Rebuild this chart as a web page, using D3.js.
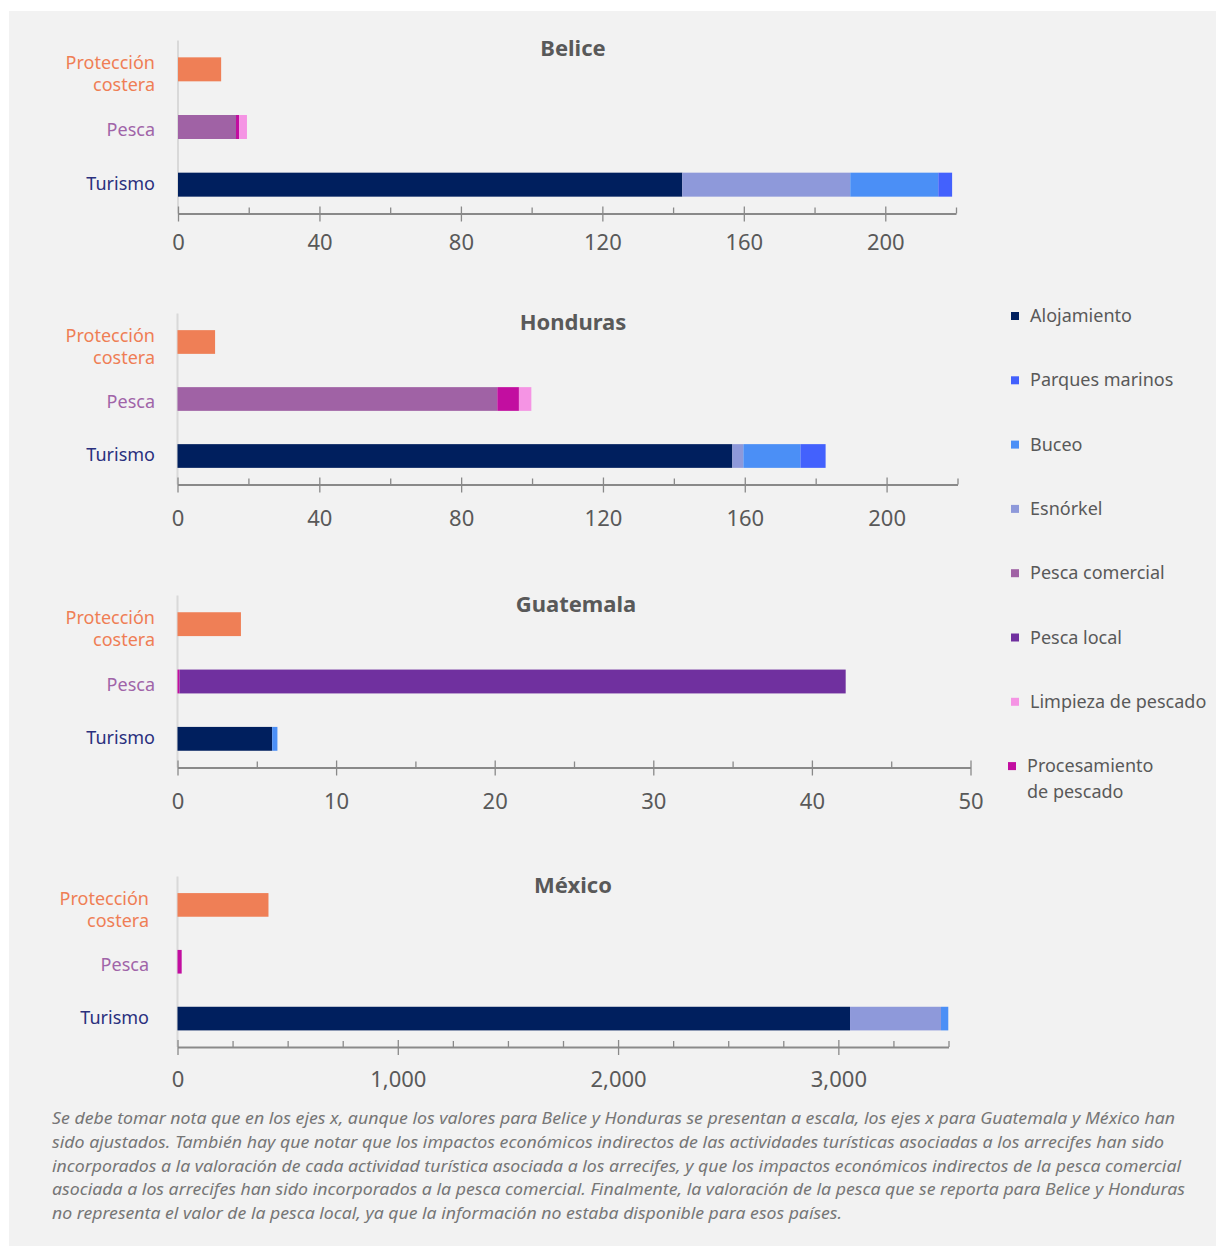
<!DOCTYPE html>
<html>
<head>
<meta charset="utf-8">
<script src="https://cdn.jsdelivr.net/npm/d3@7"></script>
<style>
  body { margin: 0; background: #ffffff; }
  svg { display: block; font-family: "Noto Sans", "Open Sans", sans-serif; }
</style>
</head>
<body>
<div id="wrapper"></div>
<script>
// data, one entry per country
const countries = ["Belice", "Honduras", "Guatemala", "México"]
const categories = ["Protección costera", "Pesca", "Turismo"]

const proteccionCostera = [12.2, 10.6, 4.0, 413]
const pescaComercial = [16.4, 90.2, 0, 0]
const procesamiento = [0.9, 6.1, 0.13, 19]
const pescaLocal = [0, 0, 42.0, 0]
const limpieza = [2.2, 3.5, 0, 0]
const alojamiento = [142.6, 156.5, 5.97, 3053]
const esnorkel = [47.5, 3.1, 0, 413]
const buceo = [24.9, 16.1, 0.33, 33]
const parques = [3.9, 7.1, 0, 0]

// axis extent and tick steps per country
const axisMax = [220, 220, 50, 3500]
const majorStep = [40, 40, 10, 1000]
const minorStep = [20, 20, 5, 250]

const legendOrder = ["Alojamiento", "Parques marinos", "Buceo", "Esnórkel",
    "Pesca comercial", "Pesca local", "Limpieza de pescado", "Procesamiento de pescado"]

function drawChart() {
    //! series table
    const series = [
        { key: "Alojamiento", cat: "Turismo", values: alojamiento, color: "#001f5e" },
        { key: "Esnórkel", cat: "Turismo", values: esnorkel, color: "#8e99da" },
        { key: "Buceo", cat: "Turismo", values: buceo, color: "#4b8ff6" },
        { key: "Parques marinos", cat: "Turismo", values: parques, color: "#4361fd" },
        { key: "Pesca comercial", cat: "Pesca", values: pescaComercial, color: "#a062a5" },
        { key: "Procesamiento de pescado", cat: "Pesca", values: procesamiento, color: "#c20ea0" },
        { key: "Pesca local", cat: "Pesca", values: pescaLocal, color: "#70309f" },
        { key: "Limpieza de pescado", cat: "Pesca", values: limpieza, color: "#f594e4" },
        { key: "Protección costera", cat: "Protección costera", values: proteccionCostera, color: "#ef7f56" },
    ]
    const colorOf = Object.fromEntries(series.map(s => [s.key, s.color]))
    const catColor = {
        "Protección costera": "#ef7e55",
        "Pesca": "#a064a8",
        "Turismo": "#2a307e"
    }
    // small vertical nudges of the category labels
    const catNudge = { "Protección costera": 1, "Pesca": 3, "Turismo": -1 }

    // panel placement
    const layout = [
        { top: 40.5, bottom: 213.5, left: 178, right: 956, labelRight: 155, titleX: 573, titleY: 56, tickDy: 36 },
        { top: 313.5, bottom: 484.5, left: 177.5, right: 957.5, labelRight: 155, titleX: 573, titleY: 330, tickDy: 41 },
        { top: 595.5, bottom: 767.5, left: 177.5, right: 970.5, labelRight: 155, titleX: 576, titleY: 612, tickDy: 41 },
        { top: 876.5, bottom: 1047, left: 177.5, right: 948.5, labelRight: 149, titleX: 573, titleY: 893, tickDy: 40 },
    ]

    const width = 1216, height = 1246
    const svg = d3.select('#wrapper')
        .append('svg')
        .attr('width', width)
        .attr('height', height)

    svg.append('rect')
        .attr('x', 9).attr('y', 11)
        .attr('width', width - 9).attr('height', height - 11)
        .attr('fill', '#f2f2f2')

    countries.forEach((country, ci) => {
        const L = layout[ci]
        const rows = categories.map(cat => {
            const row = { cat }
            series.forEach(s => { row[s.key] = s.cat === cat ? s.values[ci] : 0 })
            return row
        })
        const stacked = d3.stack().keys(series.map(s => s.key))(rows)

        const x = d3.scaleLinear().domain([0, axisMax[ci]]).range([L.left, L.right])
        const y = d3.scaleBand().domain(categories).range([L.top, L.bottom])
            .paddingInner(0.584).paddingOuter(0.292)

        const g = svg.append('g')

        // vertical category axis line
        g.append('line')
            .attr('x1', L.left).attr('x2', L.left)
            .attr('y1', L.top).attr('y2', L.bottom)
            .attr('stroke', '#d9d9d9').attr('stroke-width', 2)

        // bars
        g.selectAll('.layer')
            .data(stacked)
            .join('g')
            .attr('fill', d => colorOf[d.key])
            .selectAll('rect')
            .data(d => d.filter(p => p[1] - p[0] > 0))
            .join('rect')
            .attr('x', d => x(d[0]))
            .attr('width', d => x(d[1]) - x(d[0]))
            .attr('y', d => y(d.data.cat))
            .attr('height', y.bandwidth())

        // minor ticks (inside, going up)
        const majors = d3.range(0, axisMax[ci] + 1e-9, majorStep[ci])
        const minors = d3.range(0, axisMax[ci] + 1e-9, minorStep[ci])
            .filter(v => !majors.some(m => Math.abs(m - v) < 1e-9))
        const minorAxis = g.append('g')
            .attr('transform', `translate(0,${L.bottom})`)
            .call(d3.axisBottom(x).tickValues(minors).tickSize(-6).tickFormat(''))
        minorAxis.select('.domain').remove()
        minorAxis.selectAll('line').attr('stroke', '#898989').attr('stroke-width', 1.3)

        // major ticks (cross) with labels
        const fmt = axisMax[ci] >= 1000 ? d3.format(',') : d3.format('d')
        const majorAxis = g.append('g')
            .attr('transform', `translate(0,${L.bottom})`)
            .call(d3.axisBottom(x).tickValues(majors).tickSizeOuter(0).tickSizeInner(8).tickFormat(fmt))
        majorAxis.select('.domain').attr('stroke', '#898989').attr('stroke-width', 1.8)
        majorAxis.selectAll('.tick line')
            .attr('y1', -7).attr('y2', 8)
            .attr('stroke', '#898989').attr('stroke-width', 1.3)
        majorAxis.selectAll('.tick text')
            .attr('y', L.tickDy).attr('dy', null)
            .attr('fill', '#595959')
            .style('font-size', '22px')
            .style('font-family', '"Noto Sans", sans-serif')

        // category labels
        const lab = g.selectAll('.catlab')
            .data(categories)
            .join('text')
            .attr('text-anchor', 'end')
            .attr('fill', d => catColor[d])
            .style('font-size', '18px')
        lab.each(function (d) {
            const words = d === "Protección costera" ? ["Protección", "costera"] : [d]
            const cy = y(d) + y.bandwidth() / 2 + catNudge[d]
            const start = cy + 6 - (words.length - 1) * 11 + (words.length > 1 ? 4 : 0)
            d3.select(this).selectAll('tspan')
                .data(words)
                .join('tspan')
                .attr('x', L.labelRight)
                .attr('y', (w, i) => start + i * 22)
                .text(w => w)
        })

        // title
        g.append('text')
            .attr('x', L.titleX).attr('y', L.titleY)
            .attr('text-anchor', 'middle')
            .attr('fill', '#595959')
            .style('font-size', '22px')
            .style('font-weight', 'bold')
            .text(country)
    })

    //! legend
    const legend = svg.append('g')
    legendOrder.forEach((key, i) => {
        const cy = 316 + i * 64.3
        const shift = key === "Procesamiento de pescado" ? -3 : 0
        legend.append('rect')
            .attr('x', 1011 + shift).attr('y', cy - 4)
            .attr('width', 8).attr('height', 8)
            .attr('fill', colorOf[key])
        const t = legend.append('text')
            .attr('fill', '#595959')
            .style('font-size', '18px')
        const words = key === "Procesamiento de pescado" ? ["Procesamiento", "de pescado"] : [key]
        t.selectAll('tspan')
            .data(words)
            .join('tspan')
            .attr('x', 1030 + shift)
            .attr('y', (w, j) => cy + 6 + j * 26)
            .text(w => w)
    })

    //! footnote
    const note = [
        "Se debe tomar nota que en los ejes x, aunque los valores para Belice y Honduras se presentan a escala, los ejes x para Guatemala y México han",
        "sido ajustados. También hay que notar que los impactos económicos indirectos de las actividades turísticas asociadas a los arrecifes han sido",
        "incorporados a la valoración de cada actividad turística asociada a los arrecifes, y que los impactos económicos indirectos de la pesca comercial",
        "asociada a los arrecifes han sido incorporados a la pesca comercial. Finalmente, la valoración de la pesca que se reporta para Belice y Honduras",
        "no representa el valor de la pesca local, ya que la información no estaba disponible para esos países."
    ]
    const noteWidth = [1123, 1112, 1129, 1133, 790]
    svg.append('g')
        .selectAll('text')
        .data(note)
        .join('text')
        .attr('x', 52)
        .attr('y', (d, i) => 1124 + i * 23.8)
        .attr('textLength', (d, i) => noteWidth[i])
        .attr('lengthAdjust', 'spacingAndGlyphs')
        .attr('fill', '#767676')
        .style('font-size', '17px')
        .style('font-style', 'italic')
        .text(d => d)
}

drawChart()
</script>
</body>
</html>
